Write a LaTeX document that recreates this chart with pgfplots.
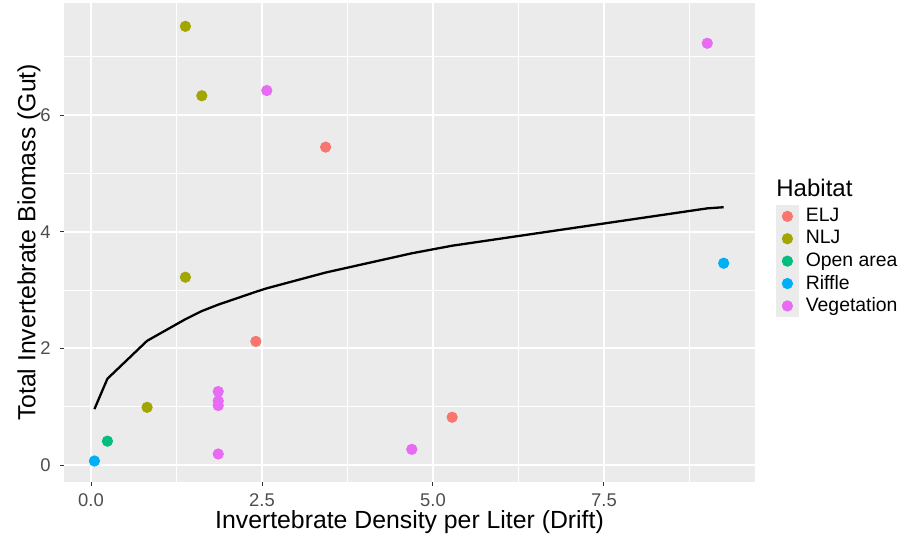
\documentclass[border=0pt]{standalone}
\usepackage{fontspec}
\setmainfont{Liberation Sans}
\usepackage{pgfplots}
\pgfplotsset{compat=1.18}
\definecolor{ggbg}{HTML}{EBEBEB}
\definecolor{ggtext}{HTML}{4D4D4D}
\definecolor{ggtick}{HTML}{333333}
\definecolor{elj}{HTML}{F8766D}
\definecolor{nlj}{HTML}{A3A500}
\definecolor{open}{HTML}{00BF7D}
\definecolor{riffle}{HTML}{00B0F6}
\definecolor{veg}{HTML}{E76BF3}
\pgfplotsset{
  ggpt/.style={only marks, mark=*, mark size=2.6pt,
    legend image code/.code={
      \fill[ggbg] (0pt,-5.4pt) rectangle (11pt,5.4pt);
      \draw[mark repeat=2,mark phase=2,##1] plot coordinates {(0pt,0pt) (5.5pt,0pt) (11pt,0pt)};
    }},
}

\begin{document}
\begin{tikzpicture}
\begin{axis}[
  name=ax,
  scale only axis, width=345.5pt, height=239.5pt,
  xmin=-0.395, xmax=9.708, ymin=-0.29, ymax=7.92,
  axis background/.style={fill=ggbg},
  axis line style={draw=none},
  xtick={0,2.5,5,7.5}, xticklabels={0.0,2.5,5.0,7.5},
  minor xtick={1.25,3.75,6.25,8.75},
  ytick={0,2,4,6}, yticklabels={0,2,4,6},
  minor ytick={1,3,5,7},
  grid=both,
  major grid style={white, line width=1pt},
  minor grid style={white, line width=0.5pt},
  tick align=outside, major tick length=2pt, minor tick length=0pt,
  tick style={color=ggtick, line width=0.5pt},
  xtick pos=bottom, ytick pos=left,
  ticklabel style={font=\fontsize{9.2}{11}\selectfont, text=ggtext, inner sep=0pt},
  xticklabel style={anchor=north, yshift=-3.8pt},
  yticklabel style={anchor=east, xshift=-4.5pt},
  xlabel={Invertebrate Density per Liter (Drift)},
  ylabel={Total Invertebrate Biomass (Gut)},
  every axis x label/.style={at={(axis description cs:0.5,-0.059)}, anchor=north, inner sep=0pt,
    font=\fontsize{12.4}{14}\selectfont},
  every axis y label/.style={at={(axis description cs:-0.0333,0.5)}, anchor=south, rotate=90, inner sep=0pt,
    font=\fontsize{12.4}{14}\selectfont},
  legend cell align=left,
  legend style={at={(axis description cs:1.0304,0.578)}, anchor=north west,
    draw=none, fill=none, inner sep=0pt, outer sep=0pt,
    row sep=0pt, column sep=3.5pt,
    nodes={inner sep=0pt, font=\fontsize{9.7}{11}\selectfont, text=black}},
  clip mode=individual,
]
\addplot[ggpt, color=elj] coordinates {(3.43,5.45) (2.41,2.12) (5.28,0.82)};
\addlegendentry{ELJ}
\addplot[ggpt, color=nlj] coordinates {(1.38,7.52) (1.62,6.33) (1.38,3.22) (0.82,0.99)};
\addlegendentry{NLJ}
\addplot[ggpt, color=open] coordinates {(0.24,0.41)};
\addlegendentry{Open area}
\addplot[ggpt, color=riffle] coordinates {(0.05,0.07) (9.25,3.46)};
\addlegendentry{Riffle}
\addplot[ggpt, color=veg] coordinates {(2.57,6.42) (9.01,7.23) (1.86,1.26) (1.86,1.10) (1.86,1.02) (1.86,0.19) (4.69,0.27)};
\addlegendentry{Vegetation}
\addplot[black, line width=1.15pt, forget plot] coordinates {
  (0.05,0.96) (0.24,1.48) (0.82,2.13) (1.38,2.50) (1.62,2.64) (1.86,2.75)
  (2.41,2.97) (2.57,3.03) (3.43,3.30) (4.69,3.63) (5.28,3.76) (9.01,4.40) (9.25,4.42)};
\node[anchor=base west, font=\fontsize{12}{14}\selectfont, inner sep=0pt] at (rel axis cs:1.0304,0.597) {Habitat};
\end{axis}
\path (ax.south west) ++(-32pt,-27.5pt) rectangle ++(453pt,268.5pt);
\end{tikzpicture}
\end{document}
